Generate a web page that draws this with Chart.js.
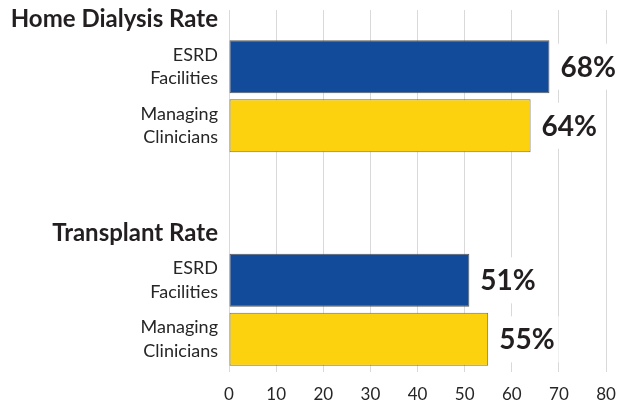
<!DOCTYPE html>
<html>
<head>
<meta charset="utf-8">
<script src="https://cdn.jsdelivr.net/npm/chart.js@4.4.1/dist/chart.umd.min.js"></script>
<style>
  body { margin: 0; background: #fff; }
  #wrap { width: 619px; height: 406px; position: relative; }
</style>
</head>
<body>
<div id="wrap"><canvas id="myChart"></canvas></div>
<script>
const groups = ['Home Dialysis Rate', 'Transplant Rate'];
const providers = [['ESRD', 'Facilities'], ['Managing', 'Clinicians']];
const esrdValues = [68, 51];
const clinicianValues = [64, 55];
const xTicks = [0, 10, 20, 30, 40, 50, 60, 70, 80];

const catPct = 0.5524;
const barPct = 0.898;
const yMin = -0.4036;
const yMax = 1.291;

// label positions on the left axis: header above each group, provider names beside its bars
const labelValues = [];
const labelTexts = [];
groups.forEach((g, i) => {
    labelValues.push(i - 0.36);
    labelTexts.push(g);
    labelValues.push(i - catPct / 4);
    labelTexts.push(providers[0]);
    labelValues.push(i + catPct / 4);
    labelTexts.push(providers[1]);
});

const valueLabels = {
    id: 'valueLabels',
    afterDatasetsDraw(chart) {
        const ctx = chart.ctx;
        ctx.save();
        ctx.font = 'bold 28px Lato';
        ctx.textBaseline = 'middle';
        ctx.textAlign = 'left';
        chart.data.datasets.forEach((ds, di) => {
            chart.getDatasetMeta(di).data.forEach((bar, i) => {
                const txt = ds.data[i].x + '%';
                const w = ctx.measureText(txt).width;
                const x = bar.x + 11;
                ctx.fillStyle = '#ffffff';
                ctx.fillRect(x - 4, bar.y - 23, w + 8, 46);
                ctx.fillStyle = '#231f20';
                ctx.fillText(txt, x, bar.y + 1);
            });
        });
        ctx.restore();
    }
};

const ctx = document.getElementById('myChart').getContext('2d');
new Chart(ctx, {
    type: 'bar',
    data: {
        datasets: [{
            label: 'ESRD Facilities',
            data: esrdValues.map((v, i) => ({ x: v, y: i })),
            backgroundColor: '#124b99',
            borderColor: '#5a5a5a',
            borderWidth: 1,
            borderSkipped: false,
            yAxisID: 'y'
        }, {
            label: 'Managing Clinicians',
            data: clinicianValues.map((v, i) => ({ x: v, y: i })),
            backgroundColor: '#fcd20f',
            borderColor: '#6b6b6b',
            borderWidth: 1,
            borderSkipped: false,
            yAxisID: 'y'
        }]
    },
    options: {
        indexAxis: 'y',
        responsive: true,
        maintainAspectRatio: false,
        animation: false,
        categoryPercentage: catPct,
        barPercentage: barPct,
        layout: { padding: { top: 10, right: 13, bottom: 0, left: 0 } },
        plugins: {
            legend: { display: false },
            tooltip: { enabled: false }
        },
        scales: {
            x: {
                type: 'linear',
                min: 0,
                max: 80,
                afterBuildTicks: s => { s.ticks = xTicks.map(v => ({ value: v })); },
                afterFit: s => { s.height = 34; s.paddingLeft = 0; s.paddingRight = 0; },
                grid: { color: '#d9d9d9', drawTicks: false },
                border: { display: false },
                ticks: {
                    padding: 12,
                    color: '#262626',
                    font: { family: 'Lato', size: 17 }
                }
            },
            y: {
                type: 'linear',
                display: false,
                offset: false,
                reverse: true,
                min: yMin,
                max: yMax,
                afterBuildTicks: s => { s.ticks = groups.map((g, i) => ({ value: i })); }
            },
            yl: {
                type: 'linear',
                position: 'left',
                offset: false,
                reverse: true,
                min: yMin,
                max: yMax,
                grid: { display: false, drawTicks: false },
                border: { display: false },
                afterBuildTicks: s => { s.ticks = labelValues.map(v => ({ value: v })); },
                afterFit: s => { s.width = 229; s.paddingTop = 0; s.paddingBottom = 0; },
                ticks: {
                    autoSkip: false,
                    padding: 11,
                    callback: (v, i) => labelTexts[i],
                    color: c => c.index % 3 === 0 ? '#231f20' : '#262626',
                    font: c => c.index % 3 === 0
                        ? { family: 'Lato', size: 24, weight: 'bold' }
                        : { family: 'Lato', size: 18, lineHeight: 1.3 }
                }
            }
        }
    },
    plugins: [valueLabels]
});
</script>
</body>
</html>
